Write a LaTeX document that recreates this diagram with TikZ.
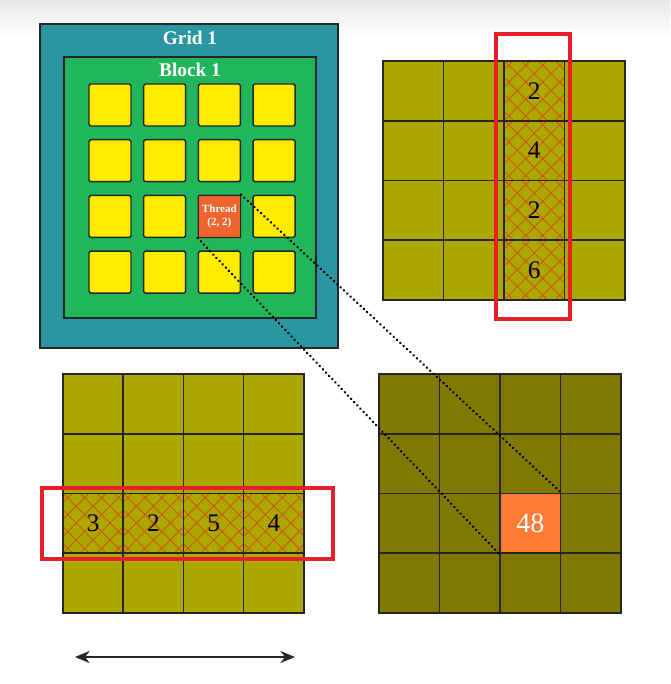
\documentclass[tikz,border=0pt]{standalone}
\usepackage{fontspec}
\setmainfont{Liberation Serif}
\usetikzlibrary{arrows.meta,decorations.markings}
\definecolor{gridteal}{RGB}{42,150,162}
\definecolor{blockgreen}{RGB}{34,182,92}
\definecolor{thyellow}{RGB}{255,236,0}
\definecolor{thorange}{RGB}{240,100,45}
\definecolor{olivea}{RGB}{173,168,0}
\definecolor{oliveb}{RGB}{128,120,0}
\definecolor{resorange}{RGB}{255,122,52}
\definecolor{hlred}{RGB}{232,30,42}
\definecolor{hatchc}{RGB}{210,80,15}
\tikzset{
  gridbox/.style={draw=black!85,line width=1pt,fill=gridteal,minimum width=223.5pt,minimum height=243pt,inner sep=0pt},
  blockbox/.style={draw=black!85,line width=1pt,fill=blockgreen,minimum width=189pt,minimum height=195.75pt,inner sep=0pt},
  titletext/.style={text=white,font=\bfseries\fontsize{14.5}{16}\selectfont},
  ybox/.style={draw=black!85,line width=1.1pt,fill=thyellow,rounded corners=1.2pt,minimum size=31.5pt,inner sep=0pt},
  thbox/.style={draw=black!85,line width=1.1pt,fill=thorange,minimum size=31.5pt,inner sep=0pt,text=white,align=center,font=\bfseries\fontsize{8.3}{9.5}\selectfont},
  cellA/.style={draw=black!85,line width=1.2pt,fill=olivea,minimum width=45.3pt,minimum height=44.8pt,inner sep=0pt,font=\fontsize{19}{21}\selectfont},
  cellB/.style={draw=black!85,line width=1.2pt,fill=oliveb,minimum width=45.3pt,minimum height=44.8pt,inner sep=0pt},
  hatchline/.style={draw=hatchc,line width=0.6pt},
  hatched/.style={path picture={
      \foreach \k in {-4,...,4}{
        \draw[hatchline] ([xshift=\k*12.7pt]path picture bounding box.south west) -- ++(60pt,60pt);
        \draw[hatchline] ([xshift=-\k*12.7pt]path picture bounding box.south east) -- ++(-60pt,60pt);
      }}},
  resbox/.style={cellB,fill=resorange,text=white,font=\fontsize{21}{23}\selectfont},
  redframe/.style={draw=hlred,line width=2.6pt,inner sep=0pt},
  dotline/.style={decoration={markings,mark=between positions 0 and 1 step 3.4pt with {\fill[black] (0,0) circle (1.05pt);}},postaction={decorate}},
  dimarrow/.style={black!85,line width=1.2pt,{Stealth[length=11pt,width=9pt]}-{Stealth[length=11pt,width=9pt]}}
}
\begin{document}
\begin{tikzpicture}[x=0.75pt,y=-0.75pt]
\useasboundingbox (0,0) rectangle (670,684);
\fill[white] (0,0) rectangle (670,684);
\shade[top color=black!9,bottom color=white] (0,0) rectangle (670,38);

% Grid / block
\node[gridbox] (grid) at (189,186) {};
\node[titletext] (gridlbl) at (190,38) {Grid 1};
\node[blockbox] (block) at (190,187.5) {};
\node[titletext] (blocklbl) at (190,70) {Block 1};
\foreach \i in {0,...,3}{
  \foreach \j in {0,...,3}{
    \node[ybox] (y-\i-\j) at ({110+54.7*\i},{105+55.7*\j}) {};
  }
}
\node[thbox] (thread) at ({110+54.7*2},{105+55.7*2}) {Thread\\(2, 2)};

% Top-right matrix (column highlighted)
\foreach \i in {0,1,3}{
  \foreach \j in {0,...,3}{
    \node[cellA] (b-\i-\j) at ({383+30.25+60.5*\i},{61+29.9+59.75*\j}) {};
  }
}
\foreach \j/\v in {0/2,1/4,2/2,3/6}{
  \node[cellA,hatched] (b-2-\j) at ({383+30.25+60.5*2},{61+29.9+59.75*\j}) {\v};
}
\node[redframe,minimum width=55.5pt,minimum height=213.75pt] (colframe) at (533,176.5) {};

% Bottom-left matrix (row highlighted)
\foreach \i in {0,...,3}{
  \foreach \j in {0,1,3}{
    \node[cellA] (a-\i-\j) at ({63+30.1+60.25*\i},{374+29.9+59.75*\j}) {};
  }
}
\foreach \i/\v in {0/3,1/2,2/5,3/4}{
  \node[cellA,hatched] (a-\i-2) at ({63+30.1+60.25*\i},{374+29.9+59.75*2}) {\v};
}
\node[redframe,minimum width=218.25pt,minimum height=53.25pt] (rowframe) at (187.5,523.5) {};

% Bottom-right result matrix
\foreach \i in {0,...,3}{
  \foreach \j in {0,...,3}{
    \node[cellB] (c-\i-\j) at ({379+30.25+60.5*\i},{374+29.9+59.75*\j}) {};
  }
}
\node[resbox] (res) at ({379+30.25+60.5*2},{374+29.9+59.75*2}) {48};

% Dotted projection lines
\path[dotline] (thread.north east) -- (res.north east);
\path[dotline] (thread.south west) -- (res.south west);

% Width arrow
\coordinate (arrL) at (75,657);
\coordinate (arrR) at (295,657);
\draw[dimarrow] (arrL) -- (arrR);
\end{tikzpicture}
\end{document}
